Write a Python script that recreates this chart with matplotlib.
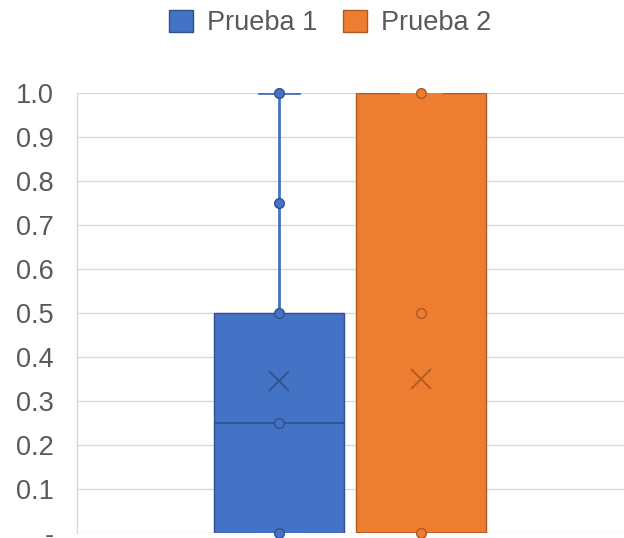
import matplotlib
matplotlib.use("Agg")
import matplotlib.pyplot as plt
from matplotlib.patches import Patch

# Summary statistics per test
series = ["Prueba 1", "Prueba 2"]
q1 = [0.0, 0.0]
median = [0.25, 0.0]
q3 = [0.5, 1.0]
whisker_low = [0.0, 0.0]
whisker_high = [1.0, 1.0]
mean = [0.345, 0.35]
points = [[0.0, 0.25, 0.5, 0.75, 1.0], [0.0, 0.5, 1.0]]

y_ticks = [0.0, 0.1, 0.2, 0.3, 0.4, 0.5, 0.6, 0.7, 0.8, 0.9, 1.0]
y_tick_labels = ["-", "0.1", "0.2", "0.3", "0.4", "0.5", "0.6", "0.7", "0.8", "0.9", "1.0"]

fills = ["#4472C4", "#ED7D31"]
edges = ["#2F528F", "#AE5A21"]
positions = [0.369, 0.629]
box_width = 0.237

plt.rcParams["font.family"] = ["Liberation Sans", "DejaVu Sans"]

fig = plt.figure(figsize=(6.24, 5.38), dpi=100)
ax = fig.add_axes([77 / 624, 5 / 538, 547 / 624, 440 / 538])

for i in range(len(series)):
    stats = [{
        "q1": q1[i], "med": median[i], "q3": q3[i],
        "whislo": whisker_low[i], "whishi": whisker_high[i],
        "mean": mean[i], "fliers": [],
    }]
    ax.bxp(stats, positions=[positions[i]], widths=box_width,
           patch_artist=True, showmeans=False, showcaps=True,
           boxprops=dict(facecolor=fills[i], edgecolor=edges[i], linewidth=1.0),
           medianprops=dict(color=edges[i], linewidth=1.2),
           whiskerprops=dict(color=fills[i], linewidth=2.0),
           capprops=dict(color=fills[i], linewidth=2.0),
           capwidths=0.072, manage_ticks=False, zorder=3)
    ax.plot([positions[i]] * len(points[i]), points[i], linestyle="none",
            marker="o", markersize=7, markerfacecolor=fills[i],
            markeredgecolor=edges[i], markeredgewidth=1.0, zorder=5,
            clip_on=False)
    ax.plot([positions[i]], [mean[i]], linestyle="none", marker="x",
            markersize=15, markeredgewidth=1.3, color=edges[i], zorder=5)

ax.set_xlim(0, 1)
ax.set_ylim(0, 1)
ax.set_yticks(y_ticks)
ax.set_yticklabels(y_tick_labels)
ax.set_xticks([])
ax.tick_params(axis="y", length=0, pad=17, labelsize=19.5, labelcolor="#595959")
ax.grid(axis="y", color="#D9D9D9", linewidth=1.0, zorder=0)
ax.set_axisbelow(True)
for side in ["top", "right", "bottom"]:
    ax.spines[side].set_visible(False)
ax.spines["left"].set_color("#D9D9D9")
ax.spines["left"].set_linewidth(1.0)

handles = [Patch(facecolor=fills[i], edgecolor=edges[i], label=series[i])
           for i in range(len(series))]
fig.legend(handles=handles, loc="center", bbox_to_anchor=(330 / 624, 1 - 23 / 538),
           ncol=2, frameon=False, fontsize=19.5, labelcolor="#595959",
           handlelength=0.9, handleheight=0.9, handletextpad=0.5,
           columnspacing=0.95, borderpad=0.2)

fig.savefig("out.png", dpi=100)
